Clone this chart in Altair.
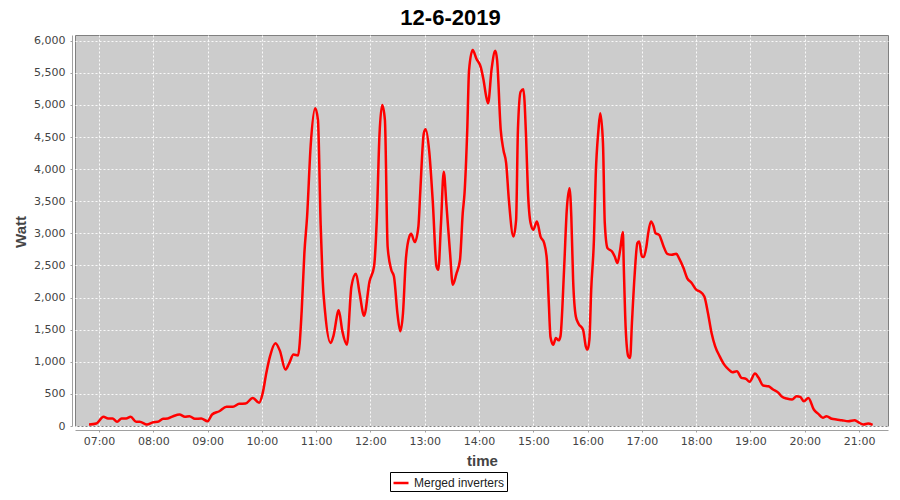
import altair as alt
import pandas as pd

# ---- data ----
times = [
    "06:49", "06:57", "07:05", "07:10", "07:15", "07:20", "07:25", "07:30", "07:35", "07:41",
    "07:45", "07:53", "08:00", "08:05", "08:11", "08:16", "08:22", "08:29", "08:35", "08:40",
    "08:46", "08:53", "09:00", "09:05", "09:13", "09:21", "09:28", "09:35", "09:42", "09:50",
    "09:57", "10:01", "10:05", "10:09", "10:15", "10:20", "10:26", "10:30", "10:35", "10:40",
    "10:44", "10:47", "10:50", "10:54", "10:59", "11:02", "11:05", "11:07", "11:10", "11:16",
    "11:19", "11:25", "11:29", "11:34", "11:39", "11:44", "11:48", "11:53", "11:59", "12:04",
    "12:07", "12:10", "12:13", "12:16", "12:19", "12:23", "12:26", "12:30", "12:33", "12:36",
    "12:39", "12:43", "12:45", "12:49", "12:53", "12:55", "12:59", "13:01", "13:05", "13:09",
    "13:13", "13:15", "13:18", "13:21", "13:24", "13:28", "13:31", "13:35", "13:39", "13:42",
    "13:44", "13:47", "13:49", "13:53", "13:57", "14:02", "14:05", "14:08", "14:10", "14:14",
    "14:18", "14:20", "14:24", "14:27", "14:30", "14:33", "14:38", "14:41", "14:43", "14:46",
    "14:49", "14:52", "14:54", "14:57", "15:00", "15:04", "15:08", "15:12", "15:15", "15:17",
    "15:19", "15:22", "15:25", "15:28", "15:30", "15:34", "15:37", "15:40", "15:42", "15:44",
    "15:47", "15:50", "15:55", "15:58", "16:00", "16:02", "16:04", "16:07", "16:09", "16:12",
    "16:14", "16:17", "16:19", "16:22", "16:27", "16:30", "16:33", "16:36", "16:39", "16:40",
    "16:42", "16:45", "16:47", "16:49", "16:52", "16:55", "16:57", "17:00", "17:02", "17:05",
    "17:07", "17:10", "17:13", "17:15", "17:19", "17:24", "17:28", "17:33", "17:38", "17:41",
    "17:46", "17:50", "17:55", "18:00", "18:04", "18:09", "18:13", "18:17", "18:21", "18:26",
    "18:31", "18:36", "18:40", "18:45", "18:50", "18:55", "18:59", "19:05", "19:09", "19:14",
    "19:20", "19:25", "19:31", "19:35", "19:40", "19:46", "19:51", "19:55", "19:59", "20:04",
    "20:10", "20:15", "20:20", "20:24", "20:30", "20:35", "20:41", "20:48", "20:55", "20:59",
    "21:05", "21:10", "21:15",
]
watts = [
    23, 39, 143, 117, 117, 65, 117, 117, 143, 65,
    65, 23, 59, 65, 112, 117, 152, 179, 143, 152,
    112, 117, 75, 179, 230, 299, 299, 345, 350, 438,
    361, 516, 830, 1085, 1290, 1170, 879, 970, 1112, 1100,
    1785, 2693, 3263, 4377, 4948, 4766, 3133, 2330, 1760, 1294,
    1396, 1801, 1474, 1267, 2174, 2371, 2071, 1718, 2252, 2485,
    3211, 4533, 4999, 4766, 2796, 2434, 2330, 1734, 1474, 1760,
    2563, 2951, 2993, 2864, 3107, 3626, 4559, 4621, 4273, 3471,
    2485, 2434, 3160, 3962, 3444, 2693, 2200, 2370, 2589, 3315,
    3626, 4611, 5544, 5855, 5725, 5586, 5388, 5129, 5026, 5570,
    5844, 5699, 4611, 4300, 4093, 3522, 2951, 3211, 4611, 5206,
    5244, 4507, 3678, 3160, 3056, 3185, 2951, 2849, 2589, 1967,
    1387, 1267, 1371, 1334, 1396, 2434, 3367, 3704, 3263, 2278,
    1707, 1594, 1500, 1241, 1190, 1345, 2123, 2900, 3911, 4611,
    4870, 4404, 3160, 2771, 2718, 2640, 2540, 2745, 3020, 2485,
    1552, 1085, 1060, 1605, 2356, 2849, 2874, 2640, 2631, 2796,
    3004, 3185, 3107, 3004, 2978, 2796, 2682, 2667, 2682, 2615,
    2460, 2304, 2227, 2123, 2096, 2018, 1760, 1449, 1241, 1085,
    956, 879, 837, 852, 750, 734, 690, 816, 750, 630,
    619, 568, 516, 454, 428, 412, 463, 454, 386, 438,
    257, 190, 128, 152, 112, 101, 90, 75, 90, 59,
    23, 39, 19,
]
series_name = "Merged inverters"
x_ticks = ["07:00", "08:00", "09:00", "10:00", "11:00", "12:00", "13:00",
           "14:00", "15:00", "16:00", "17:00", "18:00", "19:00", "20:00", "21:00"]
y_ticks = [0, 500, 1000, 1500, 2000, 2500, 3000, 3500, 4000, 4500, 5000, 5500, 6000]


def to_min(s):
    h, m = s.split(":")
    return int(h) * 60 + int(m)


df = pd.DataFrame({
    "minute": [to_min(t) for t in times],
    "watt": watts,
    "series": [series_name] * len(times),
})

label_expr = "(floor(datum.value/60) < 10 ? '0' : '') + floor(datum.value/60) + ':00'"

PLOT_W = 813
PLOT_H = 391

chart = alt.Chart(df).mark_line(
    interpolate="monotone", strokeWidth=2.5, clip=True
).encode(
    x=alt.X(
        "minute:Q",
        scale=alt.Scale(domain=[393.5, 1292], nice=False, zero=False),
        axis=alt.Axis(
            values=[to_min(t) for t in x_ticks], labelExpr=label_expr, title="time",
            offset=4, tickSize=2, labelPadding=3,
            titleX=PLOT_W / 2 + 0.5, titleY=35, titleAlign="center",
            titleBaseline="alphabetic",
            labelFont="DejaVu Sans", labelFontSize=11, labelColor="#444444",
            titleFont="Liberation Sans", titleFontSize=15, titleFontWeight="bold",
            titleColor="#444444", domainColor="#A0A0A0", tickColor="#A0A0A0",
            gridColor="#FFFFFF", gridDash=[2, 2], gridWidth=1, gridOpacity=0.9,
            labelFlush=False,
        ),
    ),
    y=alt.Y(
        "watt:Q",
        scale=alt.Scale(domain=[0, 6090], nice=False),
        axis=alt.Axis(
            values=y_ticks, format=",.0f", title="Watt",
            offset=3, tickSize=2, labelPadding=5,
            titleX=-52, titleY=PLOT_H / 2 + 1, titleAlign="center",
            titleBaseline="middle", titleAngle=270,
            labelFont="DejaVu Sans", labelFontSize=11, labelColor="#444444",
            titleFont="Liberation Sans", titleFontSize=15, titleFontWeight="bold",
            titleColor="#444444", domainColor="#A0A0A0", tickColor="#A0A0A0",
            gridColor="#FFFFFF", gridDash=[2, 2], gridWidth=1, gridOpacity=0.9,
            labelFlush=False,
        ),
    ),
    color=alt.Color(
        "series:N",
        scale=alt.Scale(domain=[series_name], range=["#FF0000"]),
        legend=alt.Legend(
            title=None, orient="none", legendX=315, legendY=437,
            symbolType="stroke", symbolSize=225, symbolStrokeWidth=2.5,
            labelFont="Liberation Sans", labelFontSize=12, labelColor="#222222",
            labelOffset=4, strokeColor="#000000", fillColor="#FFFFFF", padding=2,
        ),
    ),
).properties(
    width=PLOT_W,
    height=PLOT_H,
    title=alt.TitleParams(
        "12-6-2019", font="Liberation Sans", fontSize=22, fontWeight="bold",
        color="#000000", anchor="middle", frame="group", dx=-31, dy=19, offset=7,
        baseline="alphabetic",
    ),
    autosize=alt.AutoSizeParams(type="none"),
    padding={"left": 67, "top": 27, "right": 4, "bottom": 66},
).configure_view(
    fill="#CCCCCC", stroke="#808080", strokeWidth=1
)

chart.save("out.html", embed_options={"renderer": "svg", "actions": False})
